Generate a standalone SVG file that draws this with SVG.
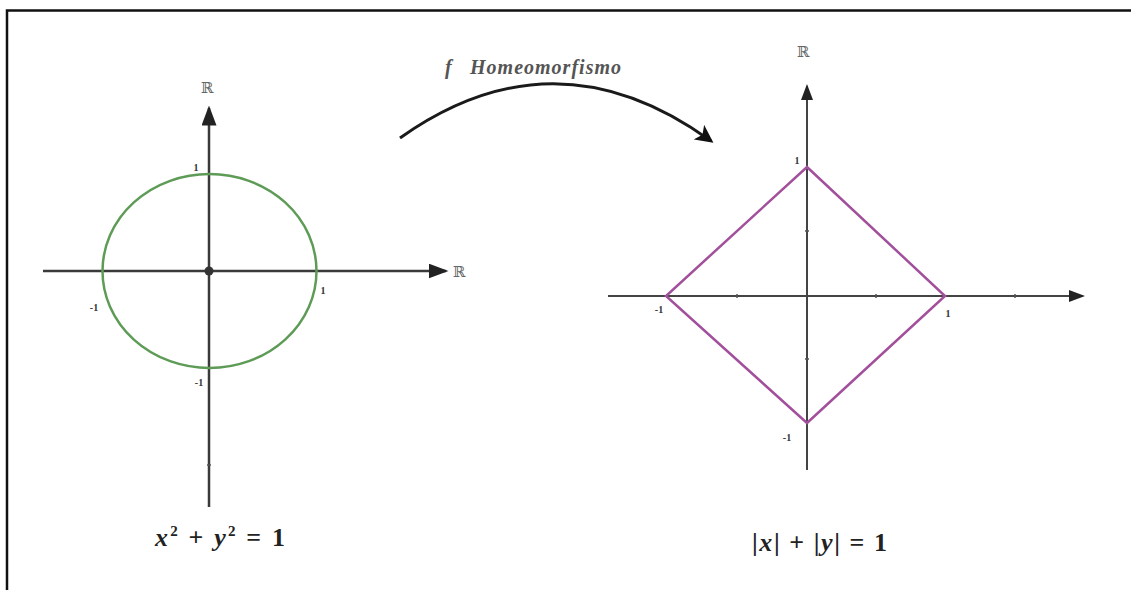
<svg xmlns="http://www.w3.org/2000/svg" width="1131" height="590" viewBox="0 0 1131 590">
<style>
.axis{stroke:#3a3a3a;stroke-width:2.5;fill:none}
.axis2{stroke:#444;stroke-width:2;fill:none}
.lbl{font-family:"Liberation Serif",serif;font-size:10px;font-weight:bold;fill:#333}
.R{font-family:"DejaVu Serif",serif;font-size:15px;fill:#666}
.eq{font-family:"Liberation Serif",serif;font-size:26px;font-weight:bold;fill:#222}
.tick{stroke:#555;stroke-width:1.5}
.ttl{font-family:"Liberation Serif",serif;font-style:italic;font-weight:bold;font-size:20px;fill:#555}
</style>
<defs>
<marker id="ah" markerWidth="8" markerHeight="6" refX="7" refY="3" orient="auto" markerUnits="strokeWidth">
<path d="M0,0 L8,3 L0,6 Z" fill="#222"/>
</marker>
<marker id="arc" markerWidth="6" markerHeight="6" refX="5" refY="3" orient="auto" markerUnits="strokeWidth">
<path d="M0,0 L6,3 L0,6 L1.5,3 Z" fill="#111"/>
</marker>
</defs>
<rect width="1131" height="590" fill="#fff"/>
<path d="M7,590 V10.5 H1131" fill="none" stroke="#111" stroke-width="2.5"/>

<g id="left-plot">
<line class="axis" x1="209" y1="507" x2="209" y2="108" marker-end="url(#ah)"/>
<line class="axis" x1="43" y1="271" x2="446" y2="271" marker-end="url(#ah)"/>
<ellipse cx="209.5" cy="271" rx="107" ry="97" fill="none" stroke="#5d9b56" stroke-width="2.5"/>
<circle cx="209" cy="271" r="4.5" fill="#333"/>
<line class="tick" x1="207" y1="465" x2="211" y2="465"/>
<text class="R" x="207" y="93" text-anchor="middle">ℝ</text>
<text class="R" x="459" y="277" text-anchor="middle">ℝ</text>
<text class="lbl" x="196" y="171" text-anchor="middle">1</text>
<text class="lbl" x="323" y="294" text-anchor="middle">1</text>
<text class="lbl" x="94" y="311" text-anchor="middle">-1</text>
<text class="lbl" x="199" y="386" text-anchor="middle">-1</text>
<text class="eq" x="155" y="546" textLength="130" lengthAdjust="spacing"><tspan font-style="italic">x</tspan><tspan font-size="15" dy="-10">2</tspan><tspan dy="10"> + </tspan><tspan font-style="italic">y</tspan><tspan font-size="15" dy="-10">2</tspan><tspan dy="10"> = 1</tspan></text>
</g>

<g id="right-plot">
<line class="axis2" x1="807" y1="470" x2="807" y2="86" marker-end="url(#ah)"/>
<line class="axis2" x1="608" y1="296" x2="1083" y2="296" marker-end="url(#ah)"/>
<line class="tick" x1="805" y1="231" x2="809" y2="231"/>
<line class="tick" x1="805" y1="359" x2="809" y2="359"/>
<line class="tick" x1="737" y1="294" x2="737" y2="298"/>
<line class="tick" x1="876" y1="294" x2="876" y2="298"/>
<line class="tick" x1="1015" y1="294" x2="1015" y2="298"/>
<polygon points="807,167 945,296 807,423 666,296" fill="none" stroke="#a24f9c" stroke-width="2.5"/>
<text class="R" x="803" y="57" text-anchor="middle">ℝ</text>
<text class="lbl" x="797" y="164" text-anchor="middle">1</text>
<text class="lbl" x="948" y="317" text-anchor="middle">1</text>
<text class="lbl" x="659" y="313" text-anchor="middle">-1</text>
<text class="lbl" x="787" y="441" text-anchor="middle">-1</text>
<text class="eq" x="752" y="551" textLength="135" lengthAdjust="spacing">|<tspan font-style="italic">x</tspan>| + |<tspan font-style="italic">y</tspan>| = 1</text>
</g>

<g id="connectors">
<path d="M400,138 Q555,28 711,141" fill="none" stroke="#1a1a1a" stroke-width="3" marker-end="url(#arc)"/>
<text class="ttl" x="445" y="74">f</text>
<text class="ttl" x="470" y="74" textLength="151" lengthAdjust="spacing">Homeomorfismo</text>
</g>
</svg>
